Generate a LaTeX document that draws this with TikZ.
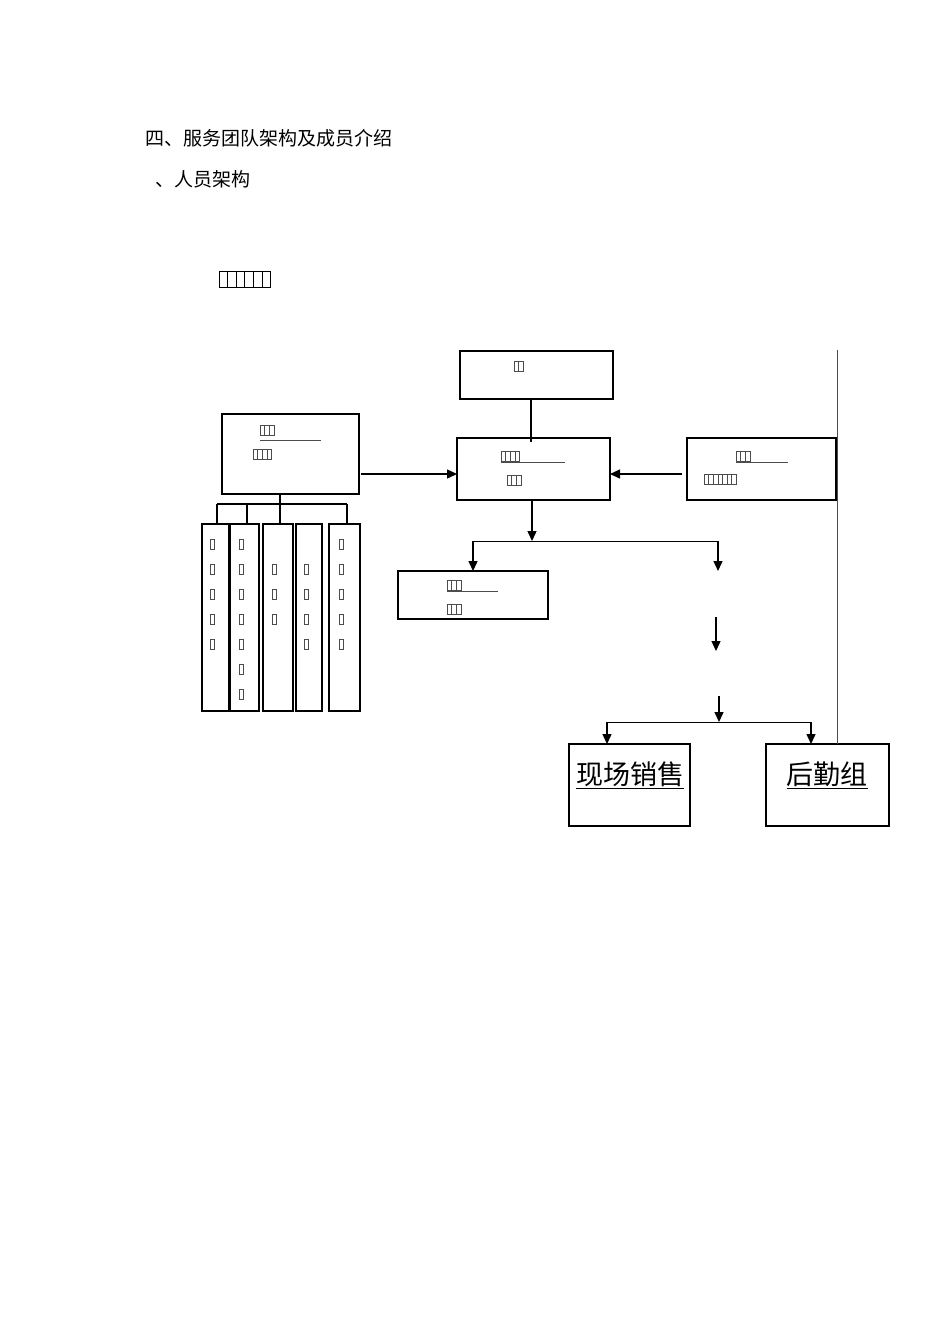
\documentclass[tikz,border=0pt]{standalone}
\usepackage{fontspec}
\newfontfamily\cjk{Noto Sans CJK SC}
\usetikzlibrary{arrows.meta}
\tikzset{
  box/.style={draw, line width=1.8pt},
  conn/.style={line width=1.4pt},
  arr/.style={conn,-{Triangle[length=10pt,width=9pt]}},
  tf/.style={draw=black!70, line width=0.5pt},
  big/.style={font=\cjk\fontsize{27}{27}\selectfont, inner sep=0pt}
}
\newcommand\tofurow[3]{\foreach \i in {1,...,#3}{\draw[tf] ({#1+(\i-1)*4.6},{#2-5}) rectangle ++(4.6,10);}}
\begin{document}
\begin{tikzpicture}[x=1pt,y=-1pt]
\useasboundingbox (0,0) rectangle (950,1344);
\node[anchor=west, font=\cjk\fontsize{19}{19}\selectfont, inner sep=0] (t1) at (145,138) {四、服务团队架构及成员介绍};
\node[anchor=west, font=\cjk\fontsize{19}{19}\selectfont, inner sep=0] (t2) at (155,179) {、人员架构};
\foreach \i in {0,...,5}{\draw[line width=0.8pt] ({219+\i*8.6},271) rectangle ++(8.6,16);}
\draw[line width=0.8pt] (219,287.5) -- (271,287.5);
\draw[box] (460,351) rectangle (613,399);
\coordinate (topB) at (531,399);
\tofurow{514}{366}{2}
\draw[box] (222,414) rectangle (359,494);
\tofurow{260}{430}{3} \draw[tf,line width=0.9pt] (260,440)--(321,440); \tofurow{253}{454}{4}
\draw[box] (457,438) rectangle (610,500);
\tofurow{501}{456}{4} \draw[tf,line width=0.9pt] (501,462)--(565,462); \tofurow{507}{480}{3}
\draw[box] (687,438) rectangle (836,500);
\tofurow{736}{456}{3} \draw[tf,line width=0.9pt] (736,462)--(788,462); \tofurow{704}{479}{7}
\draw[box] (398,571) rectangle (548,619);
\tofurow{447}{585}{3} \draw[tf,line width=0.9pt] (447,591)--(498,591); \tofurow{447}{609}{3}
\draw[box] (569,744) rectangle (690,826);
\node[big] (xc) at (630,775) {\underline{现场销售}};
\draw[box] (766,744) rectangle (889,826);
\node[big] (hq) at (827,775) {\underline{后勤组}};
\coordinate (a1) at (531,442);
\draw[conn] (topB) -- (a1);
\coordinate (l1) at (361,474); \coordinate (c1) at (457,474);
\draw[arr] (l1) -- (c1);
\coordinate (r1) at (682,474); \coordinate (c2) at (610,474);
\draw[arr] (r1) -- (c2);
\coordinate (cb) at (532,500); \coordinate (j1) at (532,541);
\draw[arr] (cb) -- (j1);
\coordinate (jl) at (473,541); \coordinate (jr) at (718,541);
\draw[conn, line width=1pt] (jl) -- (jr);
\coordinate (jlb) at (473,571); \coordinate (jrb) at (718,571);
\draw[arr] (jl) -- (jlb);
\draw[arr] (jr) -- (jrb);
\coordinate (m1) at (716,617); \coordinate (m2) at (716,651);
\draw[arr] (m1) -- (m2);
\coordinate (n1) at (719,696); \coordinate (n2) at (719,722);
\draw[arr] (n1) -- (n2);
\coordinate (hl) at (607,722); \coordinate (hr) at (811,722);
\draw[conn, line width=1pt] (hl) -- (hr);
\coordinate (hlb) at (607,744); \coordinate (hrb) at (811,744);
\draw[arr] (hl) -- (hlb);
\draw[arr] (hr) -- (hrb);
\coordinate (v1) at (837,350); \coordinate (v2) at (837,744);
\draw[line width=0.8pt, black!70] (v1) -- (v2);
\draw[conn] (280,494) -- (280,504);
\draw[conn] (217,504) -- (347,504);
\foreach \x in {217,247,280,347}{\draw[conn] (\x,504) -- (\x,524);}
\foreach \a/\b in {202/229,230/259,263/293,296/322,329/360}{\draw[box] (\a,524) rectangle (\b,711);}
\foreach \x/\s/\n in {212/544/5,241/544/7,274/569/3,306/569/4,341/544/5}{
  \foreach \k in {1,...,\n}{\draw[tf] ({\x-2},{\s+(\k-1)*25-5}) rectangle ++(4,10);}}
\end{tikzpicture}
\end{document}
